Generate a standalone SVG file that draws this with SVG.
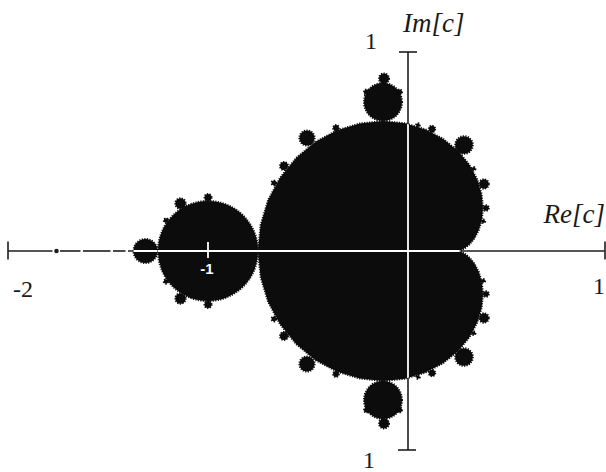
<svg xmlns="http://www.w3.org/2000/svg" xmlns:xlink="http://www.w3.org/1999/xlink" width="606" height="472" viewBox="0 0 606 472">
<style>
.ax{stroke:#1e1e1e;stroke-width:1.6;fill:none}
.axw{stroke:#fff;stroke-width:1.8;fill:none}
.set use{fill:#0c0c0c;stroke:#0c0c0c;stroke-width:2;stroke-dasharray:1.2 1.3}
.num{font-size:24px;fill:#1a1a1a}
.lab{font-size:27px;font-style:italic;fill:#1a1a1a}
</style>
<defs>
<path id="card" d="M458,251 L458.9,250.9 L461.3,250.1 L465,248.1 L469.6,244.3 L474.4,238.4 L478.7,230.3 L481.8,220 L483,207.7 L481.6,194 L477.2,179.4 L469.4,164.8 L458,151 L443.2,138.9 L425.4,129.4 L405.1,123.3 L383,121.1 L360.1,123.4 L337.3,130.3 L315.7,141.8 L296.4,157.7 L280.3,177.4 L268.1,200.1 L260.6,225 L258,251 L260.6,277 L268.1,301.9 L280.3,324.6 L296.4,344.3 L315.7,360.2 L337.3,371.7 L360.1,378.6 L383,380.9 L405.1,378.7 L425.4,372.6 L443.2,363.1 L458,351 L469.4,337.2 L477.2,322.6 L481.6,308 L483,294.3 L481.8,282 L478.7,271.7 L474.4,263.6 L469.6,257.7 L465,253.9 L461.3,251.9 L458.9,251.1 Z"/>
<circle id="b2" cx="208" cy="251" r="50"/>
<circle id="b4" cx="145.5" cy="251" r="12"/>
<circle id="b6a" cx="180.5" cy="203.5" r="5.2"/>
<circle id="b6b" cx="180.5" cy="298.5" r="5.2"/>
<circle id="b8a" cx="208" cy="197.5" r="3.5"/>
<circle id="b8b" cx="208" cy="304.5" r="3.5"/>
<circle id="b10a" cx="166" cy="220.5" r="2.2"/>
<circle id="b10b" cx="166" cy="281.5" r="2.2"/>
<circle id="b3a" cx="383" cy="102" r="19"/>
<circle id="b3b" cx="383" cy="400" r="19"/>
<circle id="b3a6" cx="384" cy="78.5" r="5"/>
<circle id="b3b6" cx="384" cy="423.5" r="5"/>
<circle id="b3al" cx="366.5" cy="92" r="2.5"/>
<circle id="b3ar" cx="399.5" cy="92" r="2.5"/>
<circle id="b3bl" cx="366.5" cy="410" r="2.5"/>
<circle id="b3br" cx="399.5" cy="410" r="2.5"/>
<circle id="q4a" cx="464" cy="145" r="8.8"/>
<circle id="q4b" cx="464" cy="357" r="8.8"/>
<circle id="q5a" cx="484" cy="184" r="4.7"/>
<circle id="q5b" cx="484" cy="318" r="4.7"/>
<circle id="q25a" cx="307" cy="138" r="7.6"/>
<circle id="q25b" cx="307" cy="364" r="7.6"/>
<circle id="q6a" cx="486" cy="208" r="2.8"/>
<circle id="q6b" cx="486" cy="294" r="2.8"/>
<circle id="q27a" cx="432" cy="129" r="3.2"/>
<circle id="q27b" cx="432" cy="373" r="3.2"/>
<circle id="q37a" cx="284" cy="166" r="4"/>
<circle id="q37b" cx="284" cy="336" r="4"/>
<circle id="q38a" cx="336" cy="128" r="2.9"/>
<circle id="q38b" cx="336" cy="374" r="2.9"/>
<circle id="q49a" cx="274" cy="183" r="2.4"/>
<circle id="q49b" cx="274" cy="319" r="2.4"/>
<circle id="q29a" cx="473.7" cy="168.8" r="1.8"/>
<circle id="q29b" cx="473.7" cy="333.2" r="1.8"/>
<circle id="q310a" cx="418" cy="125" r="1.8"/>
<circle id="q310b" cx="418" cy="377" r="1.8"/>
<circle id="q7a" cx="483.3" cy="221.2" r="1.8"/>
<circle id="q7b" cx="483.3" cy="280.8" r="1.8"/>
<clipPath id="mclip">
<use xlink:href="#card"/><use xlink:href="#b2"/><use xlink:href="#b4"/><use xlink:href="#b3a"/><use xlink:href="#b3b"/>
</clipPath>
</defs>
<rect width="606" height="472" fill="#fff"/>
<g id="axes-black">
<line class="ax" x1="8" y1="251" x2="52.5" y2="251"/>
<line class="ax" x1="60" y1="251" x2="80.5" y2="251"/>
<line class="ax" x1="83" y1="251" x2="110.5" y2="251"/>
<line class="ax" x1="113" y1="251" x2="125.5" y2="251"/>
<line class="ax" x1="128" y1="251" x2="605" y2="251"/>
<circle cx="56.5" cy="251" r="2.3" fill="#1e1e1e"/>
<line class="ax" x1="8" y1="241.5" x2="8" y2="259.5"/>
<line class="ax" x1="605" y1="241.5" x2="605" y2="259.5"/>
<line class="ax" x1="408" y1="52" x2="408" y2="450"/>
<line class="ax" x1="399" y1="52" x2="417" y2="52"/>
<line class="ax" x1="398" y1="450" x2="416" y2="450"/>
</g>
<g id="mandelbrot" class="set">
<use xlink:href="#card"/><use xlink:href="#b2"/><use xlink:href="#b4"/>
<use xlink:href="#b6a"/><use xlink:href="#b6b"/><use xlink:href="#b8a"/><use xlink:href="#b8b"/><use xlink:href="#b10a"/><use xlink:href="#b10b"/>
<use xlink:href="#b3a"/><use xlink:href="#b3b"/><use xlink:href="#b3a6"/><use xlink:href="#b3b6"/>
<use xlink:href="#b3al"/><use xlink:href="#b3ar"/><use xlink:href="#b3bl"/><use xlink:href="#b3br"/>
<use xlink:href="#q4a"/><use xlink:href="#q4b"/><use xlink:href="#q5a"/><use xlink:href="#q5b"/>
<use xlink:href="#q25a"/><use xlink:href="#q25b"/><use xlink:href="#q6a"/><use xlink:href="#q6b"/>
<use xlink:href="#q27a"/><use xlink:href="#q27b"/><use xlink:href="#q37a"/><use xlink:href="#q37b"/>
<use xlink:href="#q38a"/><use xlink:href="#q38b"/><use xlink:href="#q49a"/><use xlink:href="#q49b"/>
<use xlink:href="#q29a"/><use xlink:href="#q29b"/><use xlink:href="#q310a"/><use xlink:href="#q310b"/>
<use xlink:href="#q7a"/><use xlink:href="#q7b"/>
</g>
<g id="axes-white" clip-path="url(#mclip)">
<line class="axw" x1="8" y1="251" x2="605" y2="251"/>
<line class="axw" x1="408" y1="52" x2="408" y2="450"/>
</g>
<g id="tick-minus1">
<line class="axw" x1="208" y1="242" x2="208" y2="258"/>
<text x="207" y="274" font-family="'Liberation Sans', Arial, sans-serif" font-size="15" font-weight="bold" fill="#fff" text-anchor="middle">-1</text>
</g>
<g id="labels" font-family="'Liberation Serif', 'Times New Roman', 'DejaVu Serif', serif">
<text class="num" x="23" y="297" text-anchor="middle">-2</text>
<text class="num" x="599" y="294" text-anchor="middle">1</text>
<text class="num" x="371" y="49" text-anchor="middle">1</text>
<text class="num" x="369" y="468" text-anchor="middle">1</text>
<text class="lab" x="403" y="32">Im[c]</text>
<text class="lab" x="605" y="223" text-anchor="end">Re[c]</text>
</g>
</svg>
